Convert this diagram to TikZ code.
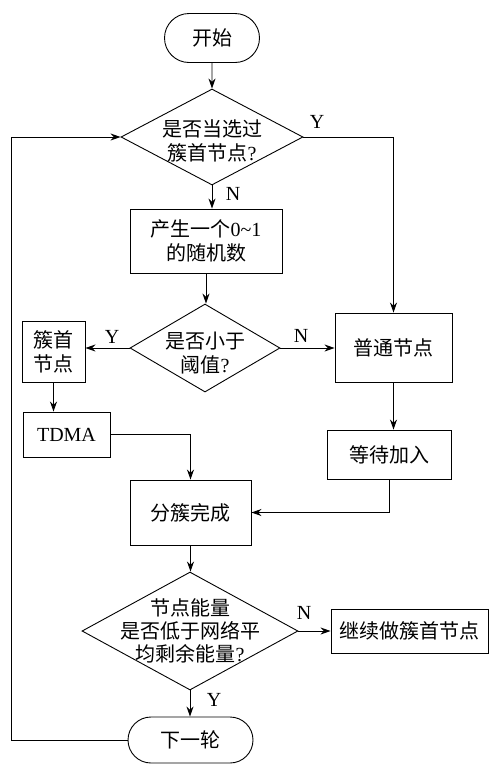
\documentclass[tikz,border=0pt]{standalone}
\usepackage{fontspec}
\setmainfont{Liberation Serif}
\newfontfamily\cjk{Noto Sans CJK SC}
\newfontfamily\lat{Liberation Serif}
\usetikzlibrary{shapes.geometric,shapes.misc,arrows.meta}
\begin{document}
\begin{tikzpicture}[x=1pt,y=-1pt,
  every node/.style={font=\cjk\fontsize{20}{24}\selectfont, align=center, inner sep=0pt, line width=0.9pt},
  box/.style args={#1/#2}{draw, rectangle, minimum width=#1pt, minimum height=#2pt},
  term/.style args={#1/#2}{draw, rounded rectangle, minimum width=#1pt, minimum height=#2pt},
  dia/.style args={#1/#2}{draw, diamond, minimum width=#1pt, minimum height=#2pt},
  lab/.style={font=\lat\fontsize{20}{24}\selectfont},
  arr/.style={line width=0.9pt, -{Stealth[length=10pt,width=7pt]}},
  ln/.style={line width=0.9pt}
]
\useasboundingbox (0,0) rectangle (489,764);

\node[term=95/49] (start) at (212,38) {开始};
\node[dia=182/96] (d1) at (212,137) {};
\node (d1t) at (212,141) {是否当选过\\簇首节点{\lat ?}};
\node[box=152/64] (rnd) at (206,241) {产生一个{\lat 0\textasciitilde1}\\的随机数};
\node[dia=150/88] (d2) at (205,348) {};
\node (d2t) at (205,353) {是否小于\\阈值{\lat ?}};
\node[box=63/61] (ch) at (53.5,351.5) {簇首\\节点};
\node[box=117/69] (pt) at (393.5,347.5) {普通节点};
\node[box=87/45] (tdma) at (66.5,434.5) {\lat TDMA};
\node[box=124/49] (wait) at (389,454.5) {等待加入};
\node[box=121/65] (done) at (190.5,512.5) {分簇完成};
\node[dia=216/118] (d3) at (190,631) {};
\node[font=\cjk\fontsize{20}{23}\selectfont] (d3t) at (190,631) {节点能量\\是否低于网络平\\均剩余能量{\lat ?}};
\node[box=157/44] (cont) at (409.5,631) {继续做簇首节点};
\node[term=125/46] (next) at (190.5,740) {下一轮};
\coordinate (loop) at (11,0);

\node[lab] (y1) at (317,122) {Y};
\node[lab] (n1) at (233,194) {N};
\node[lab] (y2) at (112,337) {Y};
\node[lab] (n2) at (301,336) {N};
\node[lab] (n3) at (304,613) {N};
\node[lab] (y3) at (214,700) {Y};

\draw[arr] (start) -- (d1.north);
\draw[arr] (d1.east) -| (pt.north);
\draw[arr] (d1.south) -- (d1.south |- rnd.north);
\draw[arr] (rnd.south) -- (rnd.south |- d2.north);
\draw[arr] (d2.west) -- (d2.west -| ch.east);
\draw[arr] (d2.east) -- (d2.east -| pt.west);
\draw[arr] (ch.south) -- (ch.south |- tdma.north);
\draw[arr] (tdma.east) -| (done.north);
\draw[arr] (pt.south) -- (pt.south |- wait.north);
\draw[arr] (wait.south) |- (done.east);
\draw[arr] (done.south) -- (done.south |- d3.north);
\draw[arr] (d3.east) -- (d3.east -| cont.west);
\draw[arr] (d3.south) -- (d3.south |- next.north);
\draw[arr] (next.west) -- (next.west -| loop) |- (d1.west);
\end{tikzpicture}
\end{document}
